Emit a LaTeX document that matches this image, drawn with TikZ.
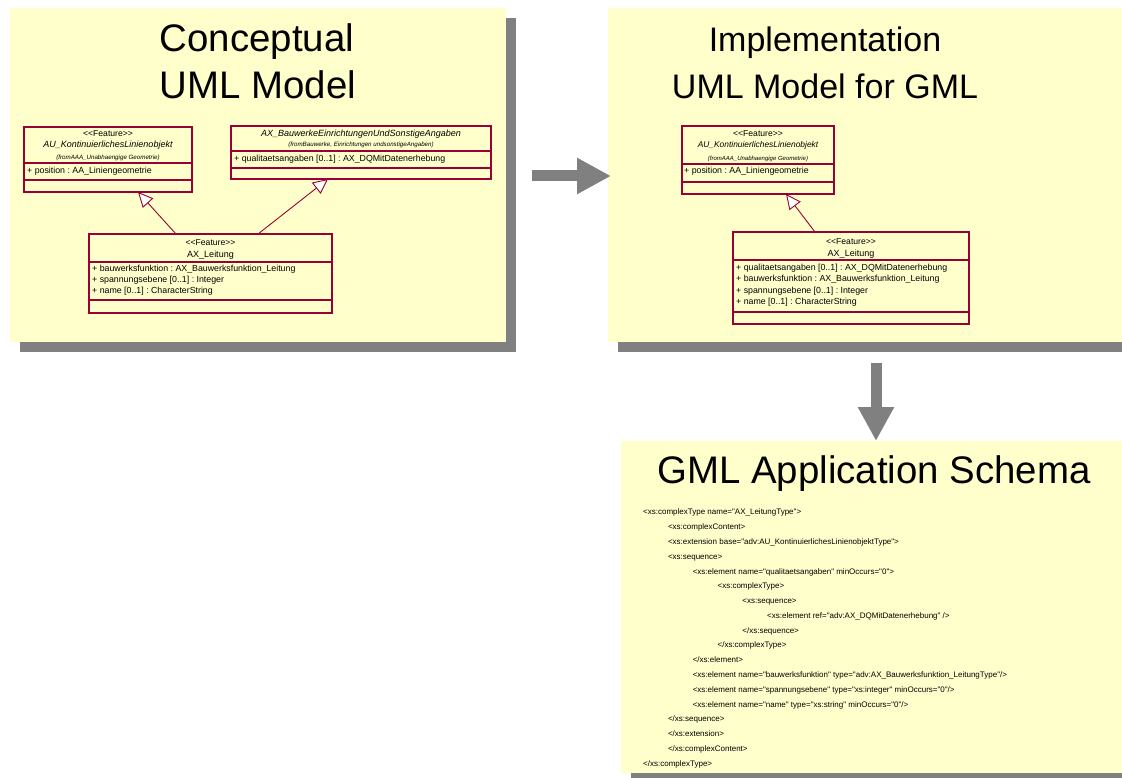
\documentclass[tikz,border=0pt]{standalone}
\usepackage{fontspec}
\usepackage{graphicx}
\newfontfamily\af{Liberation Sans}
\usetikzlibrary{arrows.meta}
\definecolor{paneY}{HTML}{FFFFCC}
\definecolor{shadowG}{HTML}{808080}
\definecolor{umlR}{HTML}{990033}
\newcommand\fs[1]{\fontsize{#1pt}{#1pt}\selectfont}
\frenchspacing
\begin{document}
\begin{tikzpicture}[x=1pt,y=-1pt,
  panel/.style={fill=paneY, draw=none, inner sep=0, outer sep=0, anchor=north west},
  umlbox/.style={fill=paneY, draw=umlR, line width=1.2pt, inner sep=0, outer sep=0, anchor=north west},
  sepline/.style={draw=umlR, line width=1.1pt},
  gen/.style={draw=umlR, line width=0.9pt, -{Triangle[fill=white,length=15pt,width=14pt]}},
  bigarrow/.style={draw=shadowG, line width=11pt, -{Triangle[length=34pt,width=34pt]}},
  ttl/.style={anchor=base, inner sep=0, font=\af\fs{38.4}},
  ttlr/.style={anchor=base, inner sep=0, font=\af\fs{34}},
  stereo/.style={anchor=base, inner sep=0, font=\af\fs{8.6}},
  cname/.style={anchor=base, inner sep=0, font=\af\itshape\fs{9}},
  cnamer/.style={anchor=base, inner sep=0, font=\af\fs{9}},
  fromt/.style={anchor=base, inner sep=0, font=\af\itshape\fs{6.2}},
  attr/.style={anchor=base west, inner sep=0, font=\af\fs{8.8}},
  xml/.style={anchor=base west, inner sep=0, font=\af\fs{8}}
]
\useasboundingbox (0,0) rectangle (1122,778);
\fill[white] (0,0) rectangle (1122,778);
% shadows
\fill[shadowG] (20,18) rectangle (516,352);
\fill[shadowG] (618,18) rectangle (1122,352);
\fill[shadowG] (631,451) rectangle (1122,778);
% panels
\node[panel, minimum width=496pt, minimum height=334pt] (pL) at (10,8) {};
\node[panel, minimum width=514pt, minimum height=334pt] (pR) at (608,8) {};
\node[panel, minimum width=501pt, minimum height=332pt] (pB) at (621,441) {};
% titles
\node[ttl] (tL1) at (257,52) {Conceptual};
\node[ttl] (tL2) at (258,99) {UML Model};
\node[ttlr] (tR1) at (825,52) {Implementation};
\node[ttlr] (tR2) at (825,99) {UML Model for GML};
\node[ttl] (tB1) at (874,483) {GML Application Schema};

% ---- left panel classes
\node[umlbox, minimum width=168pt, minimum height=65pt] (c1) at (24,127) {};
\draw[sepline] ([yshift=-36pt]c1.north west) -- ([yshift=-36pt]c1.north east);
\draw[sepline] ([yshift=-53pt]c1.north west) -- ([yshift=-53pt]c1.north east);
\node[stereo] (c1s) at (108,137) {{<}{<}Feature{>}{>}};
\node[cname] (c1n) at (108,148) {AU\_KontinuierlichesLinienobjekt};
\node[fromt] (c1f) at (108,159.5) {(fromAAA\_Unabhaengige Geometrie)};
\node[attr] (c1a) at (27,173.2) {+ position : AA\_Liniengeometrie};

\node[umlbox, minimum width=260pt, minimum height=53pt] (c2) at (231,126) {};
\draw[sepline] ([yshift=-25pt]c2.north west) -- ([yshift=-25pt]c2.north east);
\draw[sepline] ([yshift=-42pt]c2.north west) -- ([yshift=-42pt]c2.north east);
\node[cname] (c2n) at (361,136.5) {AX\_BauwerkeEinrichtungenUndSonstigeAngaben};
\node[fromt] (c2f) at (361,146.5) {(fromBauwerke, Einrichtungen undsonstigeAngaben)};
\node[attr] (c2a) at (234,161.5) {+ qualitaetsangaben [0..1] : AX\_DQMitDatenerhebung};

\node[umlbox, minimum width=243pt, minimum height=79pt] (c3) at (89,234) {};
\draw[sepline] ([yshift=-28pt]c3.north west) -- ([yshift=-28pt]c3.north east);
\draw[sepline] ([yshift=-66pt]c3.north west) -- ([yshift=-66pt]c3.north east);
\node[stereo] (c3s) at (210.5,246) {{<}{<}Feature{>}{>}};
\node[cnamer] (c3n) at (210.5,257.5) {AX\_Leitung};
\node[attr] (c3a1) at (92,271.5) {+ bauwerksfunktion : AX\_Bauwerksfunktion\_Leitung};
\node[attr] (c3a2) at (92,282.5) {+ spannungsebene [0..1] : Integer};
\node[attr] (c3a3) at (92,293.5) {+ name [0..1] : CharacterString};

\draw[gen] ([xshift=87pt]c3.north west) -- ([xshift=114pt]c1.south west);
\draw[gen] ([xshift=169pt]c3.north west) -- ([xshift=97pt]c2.south west);

% ---- right panel classes
\node[umlbox, minimum width=152pt, minimum height=68pt] (r1) at (682,126) {};
\draw[sepline] ([yshift=-38pt]r1.north west) -- ([yshift=-38pt]r1.north east);
\draw[sepline] ([yshift=-56pt]r1.north west) -- ([yshift=-56pt]r1.north east);
\node[stereo] (r1s) at (758,137) {{<}{<}Feature{>}{>}};
\node[cname, font=\af\itshape\fs{8.4}] (r1n) at (758,148) {AU\_KontinuierlichesLinienobjekt};
\node[fromt, font=\af\itshape\fs{6}] (r1f) at (758,160.5) {(fromAAA\_Unabhaengige Geometrie)};
\node[attr] (r1a) at (684,174) {+ position : AA\_Liniengeometrie};

\node[umlbox, minimum width=236pt, minimum height=92pt] (r2) at (733,232) {};
\draw[sepline] ([yshift=-28pt]r2.north west) -- ([yshift=-28pt]r2.north east);
\draw[sepline] ([yshift=-80pt]r2.north west) -- ([yshift=-80pt]r2.north east);
\node[stereo] (r2s) at (851,244) {{<}{<}Feature{>}{>}};
\node[cnamer] (r2n) at (851,256.5) {AX\_Leitung};
\node[attr] (r2a1) at (736,270) {+ qualitaetsangaben [0..1] : AX\_DQMitDatenerhebung};
\node[attr] (r2a2) at (736,281) {+ bauwerksfunktion : AX\_Bauwerksfunktion\_Leitung};
\node[attr] (r2a3) at (736,293) {+ spannungsebene [0..1] : Integer};
\node[attr] (r2a4) at (736,305) {+ name [0..1] : CharacterString};

\draw[gen] ([xshift=82pt]r2.north west) -- ([xshift=104pt]r1.south west);

% ---- big arrows
\coordinate (h1) at (532,176);
\coordinate (h2) at (611,176);
\draw[bigarrow] (h1) -- (h2);
\coordinate (v1) at (876,363);
\coordinate (v2) at (876,441);
\draw[bigarrow] (v1) -- (v2);

% ---- XML
\node[xml] (x0) at (643,514) {<xs:complexType name="AX\_LeitungType">};
\node[xml] (x1) at (667.8,529) {<xs:complexContent>};
\node[xml] (x2) at (667.8,544) {<xs:extension base="adv:AU\_KontinuierlichesLinienobjektType">};
\node[xml] (x3) at (667.8,559) {<xs:sequence>};
\node[xml] (x4) at (692.6,574) {<xs:element name="qualitaetsangaben" minOccurs="0">};
\node[xml] (x5) at (717.4,588) {<xs:complexType>};
\node[xml] (x6) at (742.2,603) {<xs:sequence>};
\node[xml] (x7) at (767,618) {<xs:element ref="adv:AX\_DQMitDatenerhebung" />};
\node[xml] (x8) at (742.2,633) {</xs:sequence>};
\node[xml] (x9) at (717.4,647) {</xs:complexType>};
\node[xml] (x10) at (692.6,662) {</xs:element>};
\node[xml] (x11) at (692.6,677) {<xs:element name="bauwerksfunktion" type="adv:AX\_Bauwerksfunktion\_LeitungType"/>};
\node[xml] (x12) at (692.6,692) {<xs:element name="spannungsebene" type="xs:integer" minOccurs="0"/>};
\node[xml] (x13) at (692.6,707) {<xs:element name="name" type="xs:string" minOccurs="0"/>};
\node[xml] (x14) at (667.8,721) {</xs:sequence>};
\node[xml] (x15) at (667.8,736) {</xs:extension>};
\node[xml] (x16) at (667.8,751) {</xs:complexContent>};
\node[xml] (x17) at (643,766) {</xs:complexType>};
\end{tikzpicture}
\end{document}
